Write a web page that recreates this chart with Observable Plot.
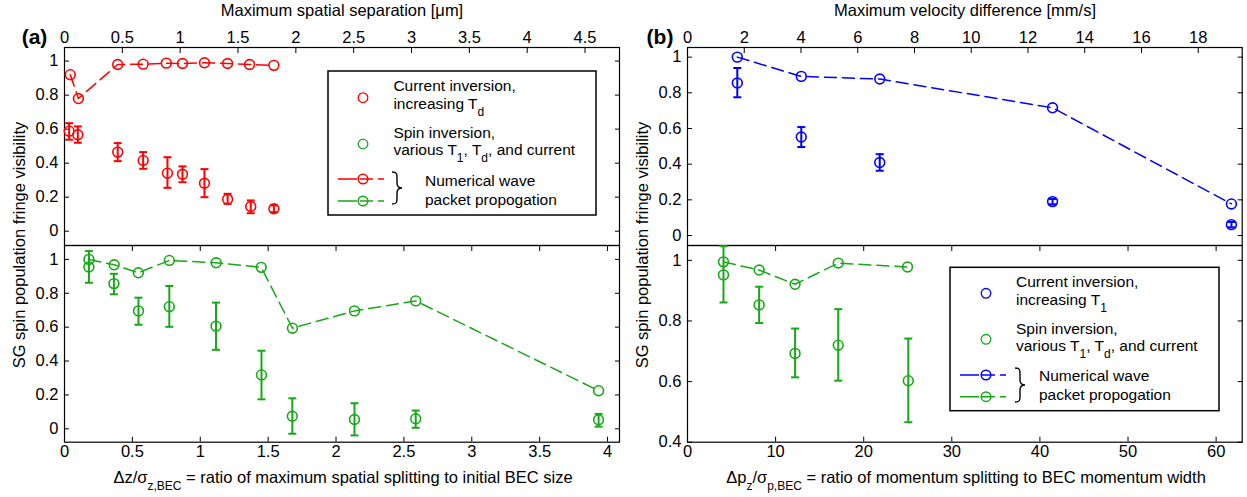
<!DOCTYPE html>
<html><head><meta charset="utf-8">
<script src="https://cdn.jsdelivr.net/npm/d3@7"></script>
<script src="https://cdn.jsdelivr.net/npm/@observablehq/plot@0.6"></script>
<style>
body{margin:0;background:#fff;}
#c{position:relative;width:1247px;height:497px;font-family:"Liberation Sans",Arial,Helvetica,sans-serif;color:#000;overflow:hidden;background:#fff;}
.t{position:absolute;font-size:16.5px;line-height:16px;white-space:nowrap;}
.t.lg{font-size:15.5px;}
.t sub{font-size:12px;line-height:0;vertical-align:-7px;}
</style></head><body><div id="c"></div>
<script>
const W = 1247, H = 497;

// ---------- Panel (a), upper: current inversion, increasing Td (x in µm) ----------
const aRedSimX = [0.05, 0.12, 0.46, 0.68, 0.88, 1.02, 1.21, 1.41, 1.60, 1.81];
const aRedSimY = [0.92, 0.78, 0.98, 0.982, 0.988, 0.986, 0.99, 0.986, 0.98, 0.975];
const aRedExpX = [0.04, 0.115, 0.46, 0.68, 0.89, 1.02, 1.21, 1.41, 1.61, 1.81];
const aRedExpY = [0.588, 0.567, 0.465, 0.416, 0.341, 0.335, 0.282, 0.188, 0.145, 0.132];
const aRedExpLo = [0.538, 0.52, 0.412, 0.367, 0.255, 0.288, 0.2, 0.161, 0.106, 0.112];
const aRedExpHi = [0.635, 0.616, 0.518, 0.465, 0.435, 0.381, 0.365, 0.22, 0.181, 0.152];

// ---------- Panel (a), lower: spin inversion (x = Δz/σz,BEC) ----------
const aGrnSimX = [0.18, 0.366, 0.544, 0.772, 1.117, 1.449, 1.679, 2.136, 2.587, 3.934];
const aGrnSimY = [1.0, 0.968, 0.921, 0.994, 0.98, 0.953, 0.594, 0.696, 0.755, 0.225];
const aGrnExpX = [0.18, 0.364, 0.545, 0.772, 1.116, 1.451, 1.678, 2.136, 2.587, 3.934];
const aGrnExpY = [0.955, 0.857, 0.696, 0.721, 0.606, 0.318, 0.074, 0.055, 0.059, 0.053];
const aGrnExpLo = [0.862, 0.794, 0.614, 0.602, 0.466, 0.174, -0.029, -0.039, 0.006, 0.013];
const aGrnExpHi = [1.049, 0.915, 0.774, 0.843, 0.745, 0.461, 0.18, 0.151, 0.108, 0.088];

// ---------- Panel (b), upper: current inversion, increasing T1 (x in mm/s) ----------
const bBluSimX = [1.755, 4.01, 6.775, 12.866, 19.17];
const bBluSimY = [1.0, 0.892, 0.877, 0.716, 0.177];
const bBluExpX = [1.755, 4.01, 6.775, 12.866, 19.17];
const bBluExpY = [0.855, 0.552, 0.409, 0.19, 0.061];
const bBluExpLo = [0.775, 0.496, 0.363, 0.175, 0.046];
const bBluExpHi = [0.939, 0.608, 0.456, 0.205, 0.076];

// ---------- Panel (b), lower: spin inversion (x = Δpz/σp,BEC) ----------
const bGrnSimX = [4.085, 8.13, 12.21, 17.11, 24.97];
const bGrnSimY = [0.995, 0.968, 0.921, 0.991, 0.978];
const bGrnExpX = [4.085, 8.13, 12.21, 17.11, 25.06];
const bGrnExpY = [0.952, 0.853, 0.693, 0.72, 0.603];
const bGrnExpLo = [0.861, 0.793, 0.614, 0.603, 0.466];
const bGrnExpHi = [1.047, 0.913, 0.775, 0.839, 0.742];

// ---------- tick labels ----------
const aTopTicks = [0, 0.5, 1, 1.5, 2, 2.5, 3, 3.5, 4, 4.5];
const aBottomTicks = [0, 0.5, 1, 1.5, 2, 2.5, 3, 3.5, 4];
const bTopTicks = [0, 2, 4, 6, 8, 10, 12, 14, 16, 18];
const bBottomTicks = [0, 10, 20, 30, 40, 50, 60];
const yTicksFull = [0, 0.2, 0.4, 0.6, 0.8, 1];
const yTicksB2 = [0.4, 0.6, 0.8, 1];

const RED = "#ff0000", GREEN = "#17a817", BLUE = "#0000ff";

const rows = (xs, ys, lo, hi) => xs.map((x, i) => ({x, y: ys[i], lo: lo ? lo[i] : null, hi: hi ? hi[i] : null}));
const cap = {draw(ctx, size) { const w = Math.sqrt(size / Math.PI); ctx.moveTo(-w, 0); ctx.lineTo(w, 0); }};

function series(sim, exp, color) {
  return [
    Plot.line(sim, {x: "x", y: "y", stroke: color, strokeWidth: 1.5, strokeDasharray: "12,6"}),
    Plot.dot(sim, {x: "x", y: "y", r: 4.9, stroke: color, strokeWidth: 1.6, fill: "none"}),
    Plot.ruleX(exp, {x: "x", y1: "lo", y2: "hi", stroke: color, strokeWidth: 2}),
    Plot.dot(exp, {x: "x", y: "lo", r: 4, symbol: cap, stroke: color, strokeWidth: 2, fill: "none"}),
    Plot.dot(exp, {x: "x", y: "hi", r: 4, symbol: cap, stroke: color, strokeWidth: 2, fill: "none"}),
    Plot.dot(exp, {x: "x", y: "y", r: 4.9, stroke: color, strokeWidth: 1.6, fill: "none"})
  ];
}

function panel(o) {
  const [l, r, t, b] = o.box;
  const marks = [Plot.frame({stroke: "black", strokeWidth: 1.2})];
  marks.push(Plot.axisX({anchor: o.xAnchor, ticks: o.xTicks, tickSize: -5, tickPadding: o.xAnchor === "top" ? 10 : 8.5, tickFormat: d => String(d), label: null}));
  if (o.mirrorX) marks.push(Plot.axisX({anchor: o.xAnchor === "top" ? "bottom" : "top", ticks: o.xTicks, tickSize: -5, tickFormat: () => "", label: null}));
  marks.push(Plot.axisY({anchor: "left", ticks: o.yTicks, tickSize: -5, tickPadding: 11, tickFormat: d => String(d), label: null}));
  marks.push(Plot.axisY({anchor: "right", ticks: o.yTicks, tickSize: -5, tickFormat: () => "", label: null}));
  marks.push(...o.marks);
  return Plot.plot({
    width: W, height: H,
    marginLeft: l, marginRight: W - r, marginTop: t, marginBottom: H - b,
    x: {domain: o.xDomain}, y: {domain: o.yDomain},
    style: {background: "transparent", overflow: "visible", fontSize: "16.5px", fontFamily: "'Liberation Sans', Arial, sans-serif", color: "black", position: "absolute", left: "0px", top: "0px", maxWidth: "none"},
    marks
  });
}

const c = document.getElementById("c");
c.appendChild(panel({box: [64, 619, 47, 245], xAnchor: "top", xTicks: aTopTicks, mirrorX: false, yTicks: yTicksFull,
  xDomain: [0, 4.798], yDomain: [-0.084, 1.08],
  marks: series(rows(aRedSimX, aRedSimY), rows(aRedExpX, aRedExpY, aRedExpLo, aRedExpHi), RED)}));
c.appendChild(panel({box: [64, 619, 245, 441.7], xAnchor: "bottom", xTicks: aBottomTicks, mirrorX: true, yTicks: yTicksFull,
  xDomain: [0, 4.088], yDomain: [-0.079, 1.082],
  marks: series(rows(aGrnSimX, aGrnSimY), rows(aGrnExpX, aGrnExpY, aGrnExpLo, aGrnExpHi), GREEN)}));
c.appendChild(panel({box: [687, 1241.7, 47, 245], xAnchor: "top", xTicks: bTopTicks, mirrorX: false, yTicks: yTicksFull,
  xDomain: [0, 19.55], yDomain: [-0.056, 1.054],
  marks: series(rows(bBluSimX, bBluSimY), rows(bBluExpX, bBluExpY, bBluExpLo, bBluExpHi), BLUE)}));
c.appendChild(panel({box: [687, 1241.7, 245, 441.7], xAnchor: "bottom", xTicks: bBottomTicks, mirrorX: true, yTicks: yTicksB2,
  xDomain: [0, 62.96], yDomain: [0.4, 1.049],
  marks: series(rows(bGrnSimX, bGrnSimY), rows(bGrnExpX, bGrnExpY, bGrnExpLo, bGrnExpHi), GREEN)}));

// ---------- legends (decorative symbols) ----------
const NS = "http://www.w3.org/2000/svg";
const lg = document.createElementNS(NS, "svg");
lg.setAttribute("width", W); lg.setAttribute("height", H);
lg.style.cssText = "position:absolute;left:0;top:0;overflow:visible";
function el(tag, attrs) { const e = document.createElementNS(NS, tag); for (const k in attrs) e.setAttribute(k, attrs[k]); lg.appendChild(e); return e; }
function legend(bx, by, bw, bh, c1, circ1y, circ2y, lineY1, lineY2, cx, lx0, lx1, bxL, bTop, bBot) {
  el("rect", {x: bx, y: by, width: bw, height: bh, fill: "white", stroke: "black", "stroke-width": 1.5});
  el("circle", {cx, cy: circ1y, r: 4.8, fill: "none", stroke: c1, "stroke-width": 1.3});
  el("circle", {cx, cy: circ2y, r: 4.8, fill: "none", stroke: GREEN, "stroke-width": 1.3});
  [[lineY1, c1], [lineY2, GREEN]].forEach(([y, col]) => {
    el("line", {x1: lx0, x2: lx1, y1: y, y2: y, stroke: col, "stroke-width": 1.5, "stroke-dasharray": "19,3,13,5,6"});
    el("circle", {cx, cy: y, r: 4.8, fill: "none", stroke: col, "stroke-width": 1.5});
  });
  const m = (bTop + bBot) / 2, x = bxL, s = x + 5, e = x + 10;
  el("path", {d: `M${x},${bTop} C${s},${bTop} ${s},${bTop + 2} ${s},${bTop + 6} L${s},${m - 5} C${s},${m - 1} ${s + 2},${m} ${e},${m} C${s + 2},${m} ${s},${m + 1} ${s},${m + 5} L${s},${bBot - 6} C${s},${bBot - 2} ${s},${bBot} ${x},${bBot}`,
    fill: "none", stroke: "black", "stroke-width": 1.4});
}
legend(328, 71, 268, 144, RED, 97.7, 144, 179, 201, 363, 338, 386, 392, 172, 204);
legend(950, 267.3, 269, 143.4, BLUE, 293.3, 339.3, 375, 396.7, 986, 960, 1010, 1015, 368, 402);
c.appendChild(lg);

// ---------- text ----------
function txt(html, x, y, opt = {}) {
  const d = document.createElement("div");
  d.className = "t";
  d.innerHTML = html;
  d.style.left = x + "px"; d.style.top = y + "px";
  let tr = "translate(-50%,-50%)";
  if (opt.rotate) tr += " rotate(-90deg)";
  d.style.transform = tr;
  if (opt.size) { d.style.fontSize = opt.size + "px"; d.style.lineHeight = opt.size + "px"; }
  c.appendChild(d);
}
function ltxt(html, x, top, lh) {
  const d = document.createElement("div");
  d.className = "t lg";
  d.innerHTML = html;
  d.style.left = x + "px"; d.style.top = top + "px"; d.style.lineHeight = lh + "px";
  c.appendChild(d);
}
txt("Maximum spatial separation [μm]", 342, 10);
txt("Maximum velocity difference [mm/s]", 965, 10);
txt("<b>(a)</b>", 34.5, 36, {size: 21});
txt("<b>(b)</b>", 660, 36, {size: 21});
txt("Δz/σ<sub>z,BEC</sub> = ratio of maximum spatial splitting to initial BEC size", 343, 477);
txt("Δp<sub>z</sub>/σ<sub>p,BEC</sub> = ratio of momentum splitting to BEC momentum width", 966, 477);
txt("SG spin population fringe visibility", 19, 245, {rotate: true});
txt("SG spin population fringe visibility", 642, 245, {rotate: true});

// legend (a) text
ltxt("Current inversion,<br>increasing T<sub>d</sub>", 393.4, 77.4, 17.2);
ltxt("Spin inversion,<br>various T<sub>1</sub>, T<sub>d</sub>, and current", 393.4, 124, 17.2);
ltxt("Numerical wave<br>packet propogation", 425, 172, 18.5);
// legend (b) text
ltxt("Current inversion,<br>increasing T<sub>1</sub>", 1016, 273.3, 17.2);
ltxt("Spin inversion,<br>various T<sub>1</sub>, T<sub>d</sub>, and current", 1016, 319.5, 17.2);
ltxt("Numerical wave<br>packet propogation", 1039, 367, 18.5);
</script></body></html>
